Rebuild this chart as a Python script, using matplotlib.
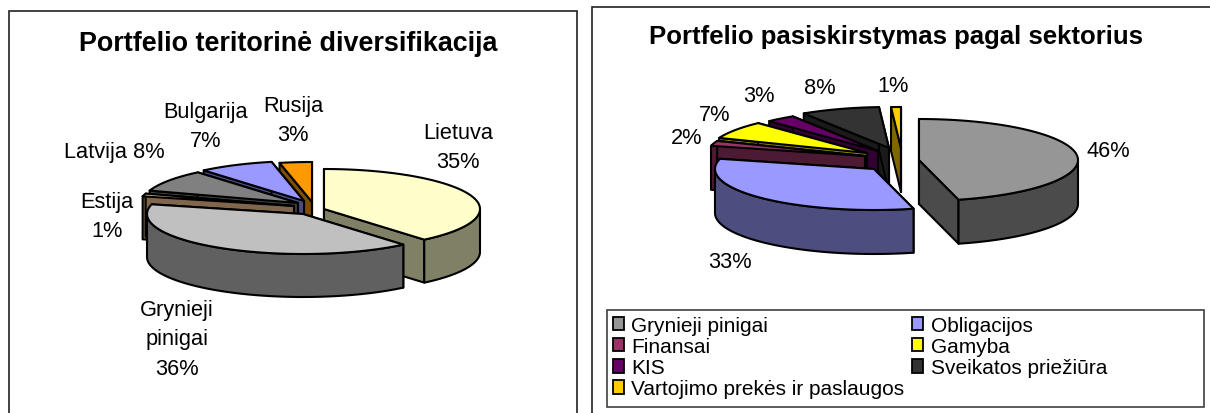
import numpy as np
import matplotlib
matplotlib.use('Agg')
import matplotlib.pyplot as plt
from matplotlib.patches import Polygon, Rectangle
from matplotlib.colors import to_rgb

plt.rcParams['font.family'] = ['Liberation Sans', 'DejaVu Sans']

# ---- data ----
title_left = 'Portfelio teritorinė diversifikacija'
regions = ['Lietuva', 'Grynieji pinigai', 'Estija', 'Latvija', 'Bulgarija', 'Rusija']
region_values = [35, 36, 1, 8, 7, 3]
region_colors = ['#FFFFCC', '#C0C0C0', '#FFCC99', '#808080', '#9999FF', '#FF9900']
region_labels = ['Lietuva\n35%', 'Grynieji\npinigai\n36%', 'Estija\n1%', 'Latvija 8%', 'Bulgarija\n7%', 'Rusija\n3%']

title_right = 'Portfelio pasiskirstymas pagal sektorius'
sectors = ['Grynieji pinigai', 'Obligacijos', 'Finansai', 'Gamyba', 'KIS', 'Sveikatos priežiūra',
           'Vartojimo prekės ir paslaugos']
sector_values = [46, 33, 2, 7, 3, 8, 1]
sector_colors = ['#969696', '#9999FF', '#993366', '#FFFF00', '#660066', '#333333', '#FFCC00']
sector_labels = ['46%', '33%', '2%', '7%', '3%', '8%', '1%']

fig = plt.figure(figsize=(12.10, 4.14), dpi=100)
ax = fig.add_axes([0, 0, 1, 1])
ax.set_xlim(0, 1210)
ax.set_ylim(414, 0)
ax.axis('off')


def pie3d(ax, values, colors, rx, ry, depth, offsets):
    """Exploded pseudo-3D pie: slice angles come from the values, offsets place each exploded slice."""
    vals = np.asarray(values, float)
    edges = np.concatenate([[0], np.cumsum(vals)]) / vals.sum() * 2 * np.pi
    mids = (edges[:-1] + edges[1:]) / 2
    order = np.argsort(-np.cos(mids))
    lw = 1.5
    for i in order:
        t0, t1 = edges[i], edges[i + 1]
        ax_x, ax_y = offsets[i]
        t = np.linspace(t0, t1, max(3, int((t1 - t0) * 40)))
        rimx = ax_x + rx * np.sin(t)
        rimy = ax_y - ry * np.cos(t)
        c = to_rgb(colors[i])
        dark = tuple(v / 2 for v in c)
        top = np.r_[[[ax_x, ax_y]], np.c_[rimx, rimy]]
        for e in (0, -1):
            wall = [(ax_x, ax_y), (rimx[e], rimy[e]), (rimx[e], rimy[e] + depth), (ax_x, ax_y + depth)]
            ax.add_patch(Polygon(wall, fc=dark, ec='k', lw=lw, joinstyle='round'))
        mask = np.cos(t) <= 0
        if mask.any():
            x = rimx[mask]
            y = rimy[mask]
            wall = np.r_[np.c_[x, y], np.c_[x[::-1], y[::-1] + depth]]
            ax.add_patch(Polygon(wall, fc=dark, ec='k', lw=lw, joinstyle='round'))
        ax.add_patch(Polygon(top, fc=c, ec='k', lw=lw, joinstyle='round'))


# frames
ax.add_patch(Rectangle((8.5, 11.5), 568.5, 420, fc='white', ec='#222222', lw=1.2))
ax.add_patch(Rectangle((591.5, 7.5), 640, 420, fc='white', ec='#222222', lw=1.2))

# left pie
pie3d(ax, region_values, region_colors, 156, 40, 43,
      [(324, 210), (303, 215), (294, 207), (298, 204), (304, 202), (312, 203)])
ax.text(288, 44, title_left, fontsize=19.4, fontweight='bold', ha='center', va='center')
left_pos = [(458, 148), (177, 340), (107, 217), (114, 153), (206, 127), (293, 121)]
for lab, (x, y) in zip(region_labels, left_pos):
    ax.text(x, y, lab, fontsize=15.7, ha='center', va='center', linespacing=1.53)

# right pie
pie3d(ax, sector_values, sector_colors, 159, 41, 44,
      [(919, 161), (874, 170), (865, 157), (867, 154), (878, 152), (889, 149), (901, 149)])
ax.text(896, 37, title_right, fontsize=18.5, fontweight='bold', ha='center', va='center')
right_pos = [(1108, 152), (730, 263), (687, 139), (715, 116), (759, 97), (820, 88), (893, 86)]
for lab, (x, y) in zip(sector_labels, right_pos):
    ax.text(x, y, lab, fontsize=15.7, ha='center', va='center')

# legend
ax.add_patch(Rectangle((607, 311), 597, 97, fc='white', ec='#404040', lw=1.2))
handles = [Rectangle((0, 0), 1, 1, fc=c, ec='k', lw=1.3) for c in sector_colors]
order = [0, 2, 4, 6, 1, 3, 5]
ax.legend([handles[i] for i in order], [sectors[i] for i in order], ncol=2, frameon=False,
          loc='upper left', bbox_to_anchor=(611 / 1210, 1 - 315 / 414), fontsize=15, borderpad=0.1,
          borderaxespad=0, handlelength=0.5, handleheight=0.6, handletextpad=0.38, columnspacing=0.38,
          labelspacing=0.1)

fig.savefig('out.png', dpi=100)
